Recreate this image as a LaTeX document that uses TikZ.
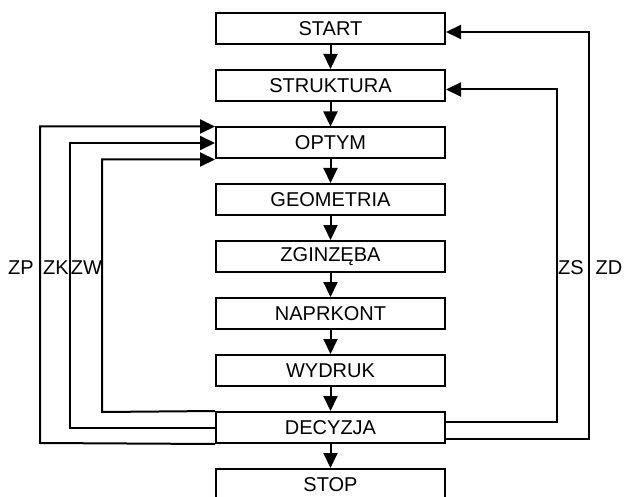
\documentclass[tikz,border=0pt]{standalone}
\usepackage{fontspec}
\setmainfont{Liberation Sans}
\usetikzlibrary{arrows.meta,calc}
\begin{document}
\begin{tikzpicture}[x=1pt,y=-1pt,
  box/.style={draw,line width=2pt,minimum width=229pt,minimum height=31pt,inner sep=0pt,font=\fontsize{20}{24}\selectfont},
  lbl/.style={font=\fontsize{20}{24}\selectfont,inner sep=0pt},
  arr/.style={line width=2pt,-{Triangle[length=15pt,width=14pt]}},
  ln/.style={line width=2pt}]
\useasboundingbox (0,0) rectangle (626,497);
\fill[white] (0,0) rectangle (626,497);
\node[box] (start) at (330.5,28.5) {START};
\node[box] (struk) at (330.5,85.5) {STRUKTURA};
\node[box] (optym) at (330.5,143) {OPTYM};
\node[box] (geom) at (330.5,199.5) {GEOMETRIA};
\node[box] (zginz) at (330.5,256.5) {ZGINZĘBA};
\node[box] (naprk) at (330.5,313.5) {NAPRKONT};
\node[box] (wydruk) at (330.5,370.5) {WYDRUK};
\node[box] (decyzja) at (330.5,427.5) {DECYZJA};
\node[box] (stop) at (330.5,484.5) {STOP};
\draw[arr] (start) -- (struk);
\draw[arr] (struk) -- (optym);
\draw[arr] (optym) -- (geom);
\draw[arr] (geom) -- (zginz);
\draw[arr] (zginz) -- (naprk);
\draw[arr] (naprk) -- (wydruk);
\draw[arr] (wydruk) -- (decyzja);
\draw[arr] (decyzja) -- (stop);
% left feedback loops
\draw[arr] (decyzja.north west) -- (102,412) |- (optym.south west);
\draw[arr] (decyzja.west) -- (70,427.5) |- (optym.west);
\draw[arr] (decyzja.south west) -- (40,443) |- (optym.north west);
% right feedback loops
\draw[arr] ($(decyzja.east)+(0,-5.5)$) -- (557,422) |- ($(struk.east)+(0,4)$);
\draw[arr] ($(decyzja.east)+(0,11)$) -- (589,438.5) |- ($(start.east)+(0,3.5)$);
\node[lbl] (zp) at (21,268) {ZP};
\node[lbl] (zk) at (56,268) {ZK};
\node[lbl] (zw) at (86.5,268) {ZW};
\node[lbl] (zs) at (571,268) {ZS};
\node[lbl] (zd) at (609,268) {ZD};
\end{tikzpicture}
\end{document}
